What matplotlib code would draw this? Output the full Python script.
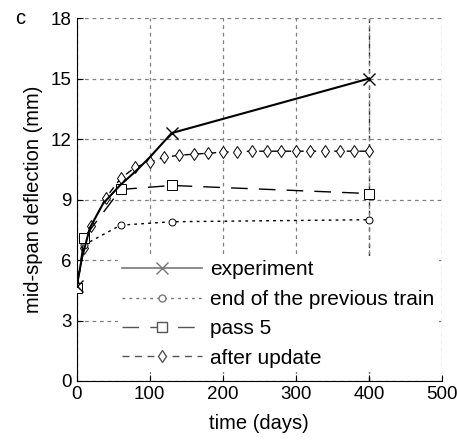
import matplotlib
matplotlib.use('Agg')
import matplotlib.pyplot as plt
import matplotlib.lines as mlines

# experiment (measured mid-span deflection)
exp_t = [0, 7, 18, 36, 59, 82, 100, 130, 400]
exp_d = [4.7, 6.1, 7.6, 8.8, 9.7, 10.45, 11.1, 12.3, 15.0]

# end of the previous train
prev_t = [0, 10, 60, 130, 400]
prev_d = [4.7, 6.75, 7.73, 7.9, 8.0]

# pass 5
pass_t = [0, 10, 60, 130, 400]
pass_d = [4.6, 7.1, 9.5, 9.7, 9.3]

# after update
upd_t = [0, 10, 20, 40, 60, 80, 100, 120, 140, 160, 180, 200, 220, 240,
         260, 280, 300, 320, 340, 360, 380, 400]
upd_d = [4.7, 6.6, 7.7, 9.1, 10.05, 10.6, 10.86, 11.1, 11.2, 11.25, 11.3,
         11.35, 11.38, 11.4, 11.4, 11.4, 11.4, 11.4, 11.4, 11.4, 11.4, 11.4]

end_day = 400
labels = ['experiment', 'end of the previous train', 'pass 5', 'after update']

plt.rcParams['font.family'] = ['Liberation Sans', 'DejaVu Sans']

fig = plt.figure(figsize=(4.57, 4.43), dpi=100)
ax = fig.add_axes([0.168, 0.14, 0.799, 0.819])

ax.axvline(end_day, color='#333333', lw=1, ls=(0, (3, 3)), zorder=1)

ax.plot(exp_t, exp_d, color='black', lw=1.5, marker='x', ms=8,
        mew=1, markevery=[0, 7, 8], zorder=5)
ax.plot(prev_t, prev_d, color='black', lw=1, ls=(0, (2, 3)),
        marker='o', ms=5, mfc='white', mew=0.7, zorder=4)
ax.plot(pass_t, pass_d, color='black', lw=1, ls=(0, (12, 8)),
        marker='s', ms=7, mfc='white', mew=0.7, zorder=4)
ax.plot(upd_t, upd_d, color='black', lw=1, ls=(0, (5, 4)),
        marker='d', ms=6.5, mfc='white', mew=0.7, zorder=3)

ax.set_xlim(0, 500)
ax.set_ylim(0, 18)
ax.set_xticks(range(0, 501, 100))
ax.set_yticks(range(0, 19, 3))
ax.tick_params(direction='in', labelsize=13.5, length=4, top=False, right=False)
ax.grid(True, color='#808080', ls=(0, (3, 3)), lw=0.9)
ax.spines['top'].set_visible(False)
ax.spines['right'].set_visible(False)
ax.set_xlabel('time (days)', fontsize=14.5, labelpad=8)
ax.set_ylabel('mid-span deflection (mm)', fontsize=14.5, labelpad=6)
fig.text(0.044, 0.959, 'c', fontsize=14.5, va='center', ha='center')

# legend with gray sample lines
h1 = mlines.Line2D([], [], color='#777777', lw=1.2, marker='x', ms=8)
h2 = mlines.Line2D([], [], color='#777777', lw=1, ls=(0, (2, 3)), marker='o', ms=5, mfc='white')
h3 = mlines.Line2D([], [], color='#555555', lw=1, ls=(0, (12, 8)), marker='s', ms=7, mfc='white')
h4 = mlines.Line2D([], [], color='#555555', lw=1, ls=(0, (5, 4)), marker='d', ms=6.5, mfc='white')
leg = ax.legend([h1, h2, h3, h4], labels, loc='lower left',
                bbox_to_anchor=(0.112, 0.025), borderaxespad=0, fontsize=15,
                handlelength=3.85, handletextpad=0.4, labelspacing=0.5,
                frameon=True, facecolor='white', edgecolor='none',
                framealpha=1, borderpad=0.2)
leg.set_zorder(6)

fig.savefig('out.png', dpi=100)
